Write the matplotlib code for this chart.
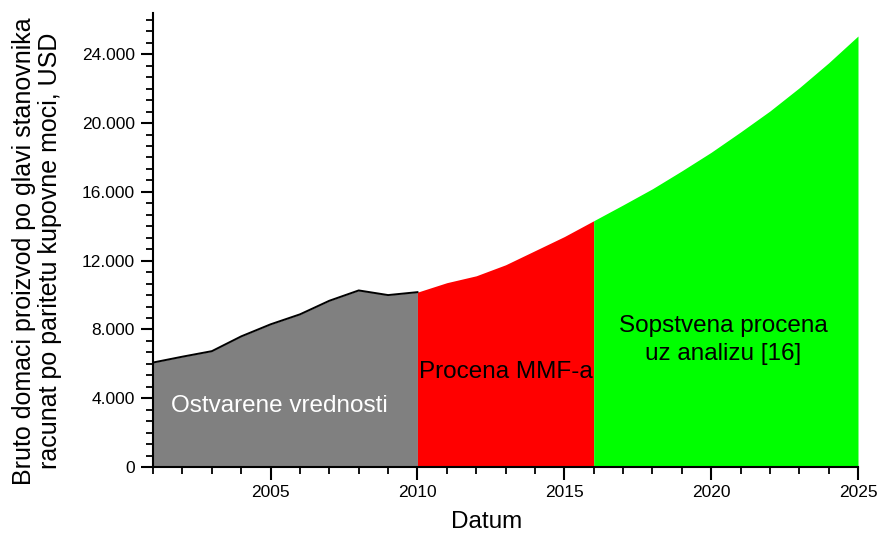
import matplotlib
matplotlib.use("Agg")
import matplotlib.pyplot as plt
from matplotlib.ticker import MultipleLocator, AutoMinorLocator, FuncFormatter

plt.rcParams["font.family"] = ["Liberation Sans", "DejaVu Sans"]

# ostvarene vrednosti (2001-2010)
years_actual = [2001, 2002, 2003, 2004, 2005, 2006, 2007, 2008, 2009, 2010]
gdp_actual = [6080, 6420, 6740, 7600, 8300, 8880, 9670, 10270, 10000, 10170]

# procena MMF-a (2010-2016)
years_imf = [2010, 2011, 2012, 2013, 2014, 2015, 2016]
gdp_imf = [10170, 10720, 11120, 11760, 12580, 13400, 14320]

# sopstvena procena (2016-2025)
years_own = [2016, 2017, 2018, 2019, 2020, 2021, 2022, 2023, 2024, 2025]
gdp_own = [14320, 15240, 16180, 17220, 18300, 19480, 20700, 22050, 23500, 25060]


def thousands(x, pos):
    return f"{int(x):,}".replace(",", ".")


fig = plt.figure(figsize=(8.8, 5.4), dpi=100)
ax = fig.add_axes([0.174, 0.135, 0.801, 0.841])

ax.fill_between(years_actual, gdp_actual, color="#808080", lw=0)
ax.plot(years_actual, gdp_actual, color="black", lw=1.4)
ax.fill_between(years_imf, gdp_imf, color="#ff0000", lw=0)
ax.fill_between(years_own, gdp_own, color="#00ff00", lw=0)

ax.set_xlim(2001, 2025)
ax.set_ylim(0, 26400)
ax.xaxis.set_major_locator(MultipleLocator(5))
ax.xaxis.set_minor_locator(MultipleLocator(1))
ax.yaxis.set_major_locator(MultipleLocator(4000))
ax.yaxis.set_minor_locator(AutoMinorLocator(6))
ax.yaxis.set_major_formatter(FuncFormatter(thousands))

for side in ["top", "right"]:
    ax.spines[side].set_visible(False)
for side in ["left", "bottom"]:
    ax.spines[side].set_linewidth(1.5)

ax.tick_params(which="major", direction="out", length=9, width=1.5, labelsize=12.5, pad=4)
ax.tick_params(which="minor", direction="out", length=5, width=1.3)

# osne oznake
fig.text(487 / 880, 1 - 522 / 540, "Datum", fontsize=17.5, ha="center", va="center")
fig.text(37 / 880, 1 - 251 / 540,
         "Bruto domaci proizvod po glavi stanovnika\nracunat po paritetu kupovne moci, USD",
         fontsize=18, rotation=90, ha="center", va="center",
         multialignment="center", linespacing=1.1)

ax.text(2005.29, 3550, "Ostvarene vrednosti", color="white", fontsize=17.5,
        ha="center", va="center")
ax.text(2013.02, 5520, "Procena MMF-a", color="black", fontsize=17.5,
        ha="center", va="center")
ax.text(2020.4, 7410, "Sopstvena procena\nuz analizu [16]", color="black", fontsize=17.5,
        ha="center", va="center", linespacing=1.35)

fig.savefig("out.png", dpi=100)
